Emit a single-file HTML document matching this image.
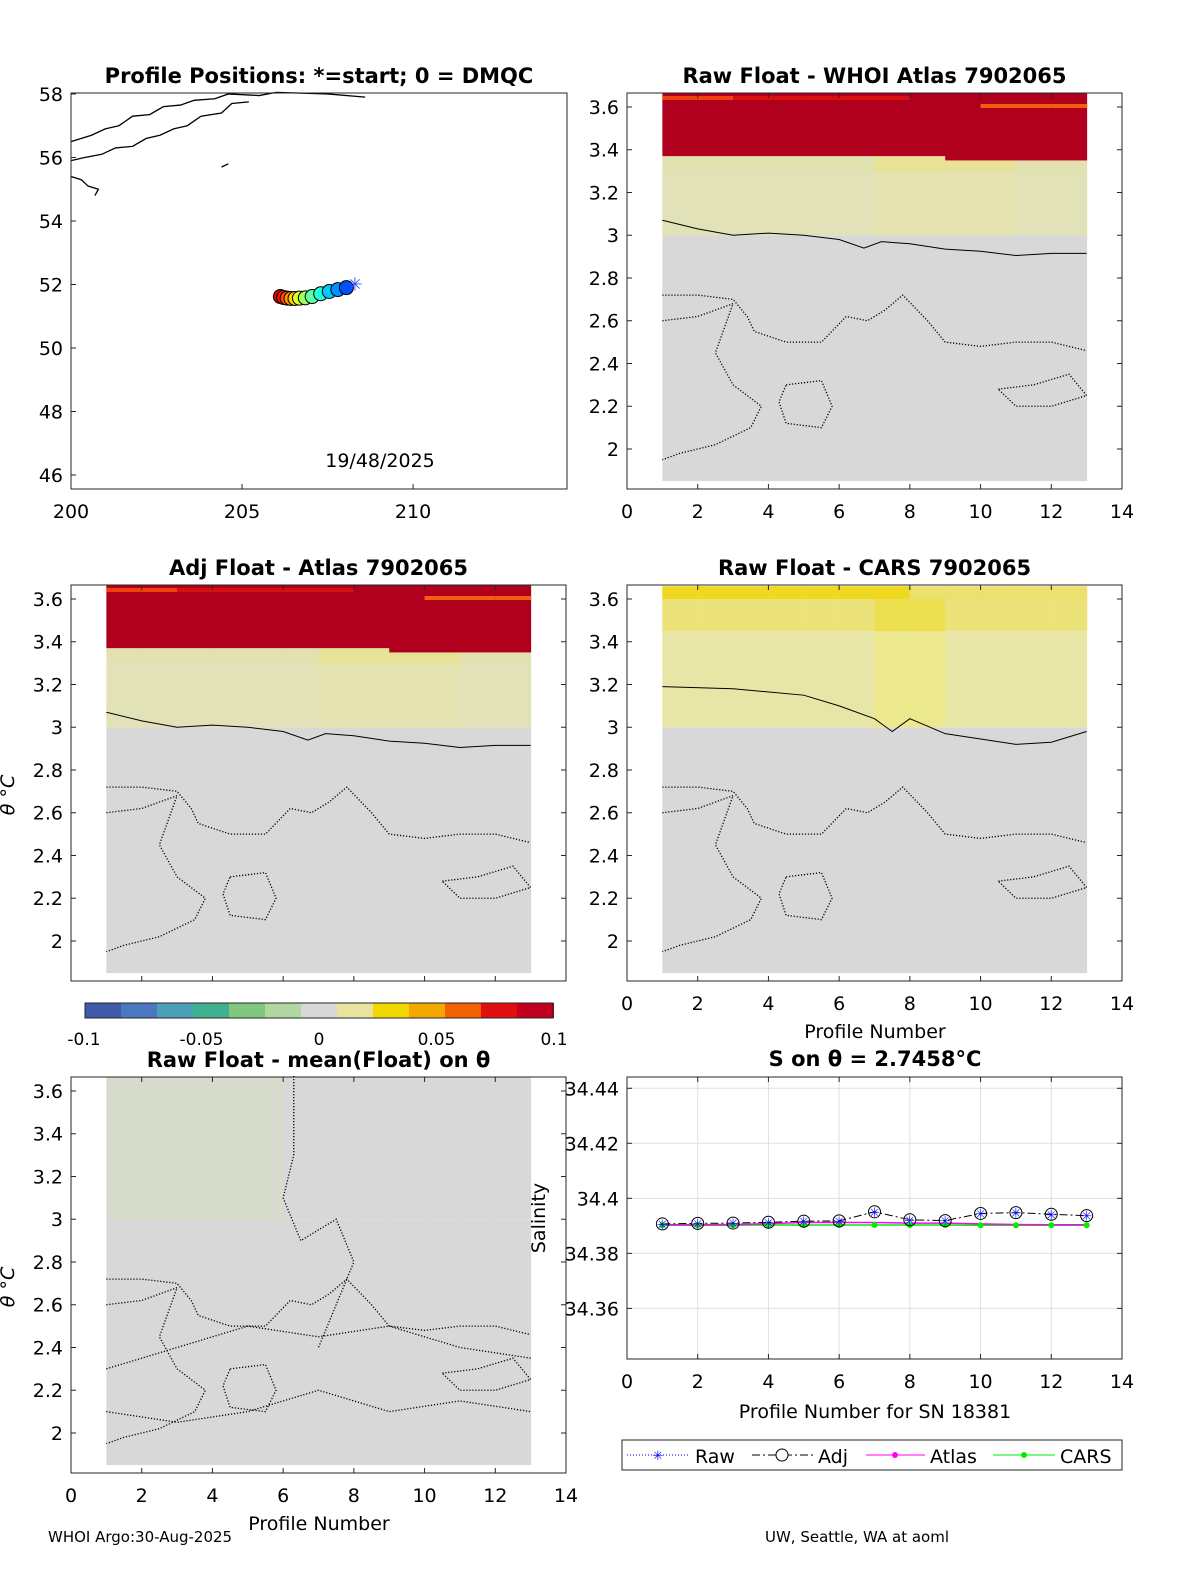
<!DOCTYPE html>
<html><head><meta charset="utf-8"><style>
body{margin:0;background:#fff;font-family:"Liberation Sans",sans-serif}
svg text{font-family:"DejaVu Sans","Liberation Sans",sans-serif}
</style></head><body>
<svg id="s" width="1200" height="1575" xmlns="http://www.w3.org/2000/svg"></svg>
<script>
const profiles=[1,2,3,4,5,6,7,8,9,10,11,12,13];
const rawSal=[34.3907,34.3909,34.3910,34.3913,34.3917,34.3918,34.3951,34.3922,34.3919,34.3945,34.3948,34.3942,34.3937];
const adjSal=[34.3907,34.3909,34.3910,34.3913,34.3917,34.3918,34.3951,34.3922,34.3919,34.3945,34.3948,34.3942,34.3937];
const atlasSal=[34.3904,34.3904,34.3905,34.3908,34.3912,34.3912,34.3912,34.3910,34.3910,34.3907,34.3905,34.3904,34.3904];
const carsSal=[34.3902,34.3902,34.3902,34.3903,34.3903,34.3903,34.3903,34.3903,34.3903,34.3902,34.3902,34.3902,34.3902];
const lons=[208.3,208.05,207.8,207.55,207.3,207.05,206.85,206.68,206.55,206.43,206.32,206.22,206.12];
const lats=[52.0,51.9,51.84,51.78,51.71,51.62,51.58,51.57,51.56,51.56,51.57,51.59,51.62];
const xTicksP=[0,2,4,6,8,10,12,14];
const thTicks=[2,2.2,2.4,2.6,2.8,3,3.2,3.4,3.6];
const salTicks=[34.36,34.38,34.4,34.42,34.44];
const coast=[[200,56.5],[200.6,56.7],[201,56.9],[201.4,57.0],[201.8,57.3],[202.3,57.35],[202.7,57.6],[203.2,57.65],[203.6,57.8],[204.2,57.85],[204.6,58.0],[205.5,57.95],[206,58.05],[207.5,58.0],[208.6,57.9]];
const coast2=[[200,55.9],[200.4,56.0],[200.9,56.1],[201.3,56.3],[201.8,56.35],[202.2,56.6],[202.6,56.7],[203.0,56.9],[203.4,57.0],[203.8,57.3],[204.4,57.4],[204.7,57.7],[205.2,57.75]];
const s=document.getElementById('s');
function el(t,a,p){const e=document.createElementNS('http://www.w3.org/2000/svg',t);for(const k in a)e.setAttribute(k,a[k]);(p||s).appendChild(e);return e;}
function txt(x,y,str,o){o=o||{};const e=el('text',{x:x,y:y,'font-size':o.fs||19,'text-anchor':o.a||'middle','font-weight':o.b?'bold':'normal',fill:'#000'});e.textContent=str;return e;}
function axes(L,T,R,B,x0,x1,y0,y1){return{L,T,R,B,x:v=>L+(v-x0)/(x1-x0)*(R-L),y:v=>B-(v-y0)/(y1-y0)*(B-T)};}
function frame(a,name){const r=el('rect',{x:a.L,y:a.T,width:a.R-a.L,height:a.B-a.T,fill:'none',stroke:'#262626','stroke-width':1});}
function ticks(a,xt,yt,noXLab){xt.forEach(v=>{el('line',{x1:a.x(v),x2:a.x(v),y1:a.B,y2:a.B-5,stroke:'#262626'});el('line',{x1:a.x(v),x2:a.x(v),y1:a.T,y2:a.T+5,stroke:'#262626'});if(!noXLab)txt(a.x(v),a.B+29,String(v));});
 yt.forEach(v=>{el('line',{x1:a.L,x2:a.L+5,y1:a.y(v),y2:a.y(v),stroke:'#262626'});el('line',{x1:a.R,x2:a.R-5,y1:a.y(v),y2:a.y(v),stroke:'#262626'});txt(a.L-8,a.y(v)+7,String(v),{a:'end'});});}
function poly(a,pts,st){return el('polyline',Object.assign({points:pts.map(p=>a.x(p[0])+','+a.y(p[1])).join(' '),fill:'none',stroke:'#000','stroke-width':1},st||{}));}
const dot={'stroke-dasharray':'1.2 1.8','stroke-width':1.3};
// ---- map
const m=axes(71,93,567,489,200,214.5,45.56,58.03);
el('clipPath',{id:'mc'}).appendChild(document.createElementNS('http://www.w3.org/2000/svg','rect'));
poly(m,coast,{'stroke-width':1.3});
poly(m,coast2,{'stroke-width':1.3});
poly(m,[[200,55.4],[200.3,55.3],[200.5,55.1],[200.8,55.0],[200.7,54.8]],{'stroke-width':1.3});
poly(m,[[204.4,55.7],[204.6,55.8]],{'stroke-width':1.3});
const jet=['#0000ff','#0050ff','#0090ff','#00c8ff','#20ffdf','#60ff9f','#9fff60','#dfff20','#ffd000','#ff9000','#ff5000','#ff1000','#e00000'];
for(let i=lons.length-1;i>=1;i--){const c=el('circle',{cx:m.x(lons[i]),cy:m.y(lats[i]),r:7,fill:jet[i],stroke:'#000','stroke-width':1});}
txt(m.x(lons[0]),m.y(lats[0])+6,'✳',{fs:18}).setAttribute('fill','#3050ff');
frame(m,'map-axes');
[46,48,50,52,54,56,58].forEach(v=>{txt(m.L-8,m.y(v)+7,String(v),{a:'end'});el('line',{x1:m.L,x2:m.L+5,y1:m.y(v),y2:m.y(v),stroke:'#262626'});});
[200,205,210].forEach(v=>{txt(m.x(v),m.B+29,String(v));el('line',{x1:m.x(v),x2:m.x(v),y1:m.B,y2:m.B-5,stroke:'#262626'});});
txt(319,83,'Profile Positions: *=start; 0 = DMQC',{b:1,fs:21});
txt(380,467,'19/48/2025');
// ---- heatmaps
function heat(a,kind){
 for(let i=0;i<12;i++){const x0=a.x(1+i),w=a.x(2+i)-x0;
  el('rect',{x:x0,y:a.y(3.0),width:w+0.5,height:a.y(1.85)-a.y(3.0),fill:'#d8d8d8'});
  if(kind=='cars'){
   const br=(i==6||i==7)?1:0;
   el('rect',{x:x0,y:a.y(3.65),width:w+0.5,height:a.y(3.0)-a.y(3.65),fill:br?'#ece88e':'#e8e6a6'});
   el('rect',{x:x0,y:a.y(3.65),width:w+0.5,height:a.y(3.45)-a.y(3.65),fill:br?'#ecdf50':'#ece27a'});
   el('rect',{x:x0,y:a.y(3.66),width:w+0.5,height:a.y(3.6)-a.y(3.66),fill:i<7?'#eed820':'#ebe070'});
  } else if(kind=='mean'){
   el('rect',{x:x0,y:a.T,width:w+0.5,height:a.y(3.0)-a.T,fill:i<5?'#d8dccc':'#d8d8d8'});
  } else {
   const rb=i<8?3.37:3.35;
   el('rect',{x:x0,y:a.y(rb),width:w+0.5,height:a.y(3.0)-a.y(rb),fill:(i>=6&&i<=9)?'#e6e296':'#e2e2b0'});
   el('rect',{x:x0,y:a.y(3.3),width:w+0.5,height:a.y(3.0)-a.y(3.3),fill:'#e2e2c0',opacity:0.6});
   el('rect',{x:x0,y:a.T,width:w+0.5,height:a.y(rb)-a.T,fill:'#b0001e'});
   if(i<7)el('rect',{x:x0,y:a.T+3,width:w+0.5,height:4,fill:i<2?'#f04010':'#d81010'});
   if(i>=9)el('rect',{x:x0,y:a.y(3.6)-3,width:w+0.5,height:4,fill:'#f06010'});
  }}
}
const solid2=[[1,3.07],[2,3.03],[3,3.0],[4,3.01],[5,3.0],[6,2.98],[6.7,2.94],[7.2,2.97],[8,2.96],[9,2.935],[10,2.925],[11,2.905],[12,2.915],[13,2.915]];
const dotA=[[1,2.72],[2,2.72],[3,2.70],[3.4,2.62],[3.6,2.55],[4.5,2.5],[5.5,2.5],[6.2,2.62],[6.8,2.6],[7.3,2.65],[7.8,2.72],[8.5,2.6],[9,2.5],[10,2.48],[11,2.5],[12,2.5],[13,2.46]];
const dotB=[[1,2.6],[2,2.62],[3,2.68],[2.5,2.45],[3,2.3],[3.8,2.2],[3.5,2.1],[2.5,2.02],[1.5,1.98],[1,1.95]];
const dotC=[[4.5,2.3],[5.5,2.32],[5.8,2.2],[5.5,2.1],[4.5,2.12],[4.3,2.22],[4.5,2.3]];
const dotD=[[10.5,2.28],[11.5,2.3],[12.5,2.35],[13,2.25],[12,2.2],[11,2.2],[10.5,2.28]];
function heatPanel(L,T,title,kind,solid,noX){const a=axes(L,T,L+495,T+396,0,14,1.8128,3.6655);heat(a,kind);
 if(solid)poly(a,solid);
 [dotA,dotB,dotC,dotD].forEach(d=>poly(a,d,dot));
 frame(a,kind+'-axes');ticks(a,xTicksP,thTicks,noX);txt((a.L+a.R)/2,T-10,title,{b:1,fs:21});return a;}
heatPanel(627,93,'Raw Float - WHOI Atlas  7902065','atlas',solid2);
heatPanel(71,585,'Adj Float - Atlas  7902065','atlas',solid2,true);
const solid4=[[1,3.19],[3,3.18],[5,3.15],[6,3.1],[7,3.04],[7.5,2.98],[8,3.04],[9,2.97],[11,2.92],[12,2.93],[13,2.98]];
heatPanel(627,585,'Raw Float - CARS  7902065','cars',solid4);
const a5=heatPanel(71,1077,'Raw Float - mean(Float) on θ','mean',null);
poly(a5,[[6.3,3.67],[6.3,3.3],[6.0,3.1],[6.5,2.9],[7.5,3.0],[8,2.8],[7.5,2.6],[7,2.4]],dot);
poly(a5,[[1,2.3],[3,2.4],[5,2.5],[7,2.45],[9,2.5],[11,2.4],[13,2.35]],dot);
poly(a5,[[1,2.1],[3,2.05],[5,2.1],[7,2.2],[9,2.1],[11,2.15],[13,2.1]],dot);
txt(875,1038,'Profile Number');
txt(319,1530,'Profile Number');
[[14,795],[14,1287]].forEach(p=>{const t=txt(p[0],p[1],'θ °C',{fs:19});t.setAttribute('transform','rotate(-90 '+p[0]+' '+p[1]+')');t.setAttribute('font-style','italic');});
// colorbar
const cb=['#3f5aa8','#4a78c0','#4aa0b8','#40b090','#80c880','#b0d8a0','#d8d8d8','#e8e4a0','#f0d800','#f4a800','#f46000','#e01010','#c0001e'];
cb.forEach((c,i)=>el('rect',{x:85+i*36,y:1003,width:37,height:15,fill:c}));
el('rect',{x:85,y:1003,width:468,height:15,fill:'none',stroke:'#262626'});
[[-0.1,'-0.1'],[-0.05,'-0.05'],[0,'0'],[0.05,'0.05'],[0.1,'0.1']].forEach(p=>txt(319+p[0]*2350,1045,p[1],{fs:17}));
// salinity
const a6=axes(627,1077,1122,1359,0,14,34.3416,34.4441);
xTicksP.forEach(v=>el('line',{x1:a6.x(v),x2:a6.x(v),y1:a6.T,y2:a6.B,stroke:'#e0e0e0'}));
salTicks.forEach(v=>el('line',{x1:a6.L,x2:a6.R,y1:a6.y(v),y2:a6.y(v),stroke:'#e0e0e0'}));
frame(a6,'salinity-axes');ticks(a6,xTicksP,salTicks);
function ser(v,st){return poly(a6,profiles.map((p,i)=>[p,v[i]]),st);}
ser(carsSal,{stroke:'#00ee00','stroke-width':1.5});ser(atlasSal,{stroke:'#ff00ff','stroke-width':1.5});
ser(adjSal,{'stroke-dasharray':'8 3 2 3'});
profiles.forEach((p,i)=>{el('circle',{cx:a6.x(p),cy:a6.y(carsSal[i]),r:3,fill:'#00ee00'});el('circle',{cx:a6.x(p),cy:a6.y(adjSal[i]),r:6,fill:'none',stroke:'#000'});txt(a6.x(p),a6.y(rawSal[i])+5,'✳',{fs:13}).setAttribute('fill','#0000ff');});
txt(875,1066,'S on θ = 2.7458°C',{b:1,fs:21});
txt(875,1418,'Profile Number for SN 18381');
const sl=txt(545,1218,'Salinity');sl.setAttribute('transform','rotate(-90 545 1218)');
el('rect',{x:622,y:1440,width:500,height:30,fill:'#fff',stroke:'#262626'});
el('line',{x1:627,x2:690,y1:1455,y2:1455,stroke:'#0000ff','stroke-dasharray':'1 2'});txt(658,1460,'✳',{fs:13}).setAttribute('fill','#0000ff');txt(695,1463,'Raw',{a:'start'});
el('line',{x1:752,x2:813,y1:1455,y2:1455,stroke:'#000','stroke-dasharray':'8 3 2 3'});el('circle',{cx:782,cy:1455,r:6,fill:'#fff',stroke:'#000'});txt(818,1463,'Adj',{a:'start'});
el('line',{x1:866,x2:925,y1:1455,y2:1455,stroke:'#ff00ff'});el('circle',{cx:895,cy:1455,r:3,fill:'#ff00ff'});txt(930,1463,'Atlas',{a:'start'});
el('line',{x1:993,x2:1055,y1:1455,y2:1455,stroke:'#00ee00'});el('circle',{cx:1024,cy:1455,r:3,fill:'#00ee00'});txt(1060,1463,'CARS',{a:'start'});
txt(48,1542,'WHOI Argo:30-Aug-2025',{a:'start',fs:15});
txt(765,1542,'UW, Seattle, WA at aoml',{a:'start',fs:15});
</script></body></html>
